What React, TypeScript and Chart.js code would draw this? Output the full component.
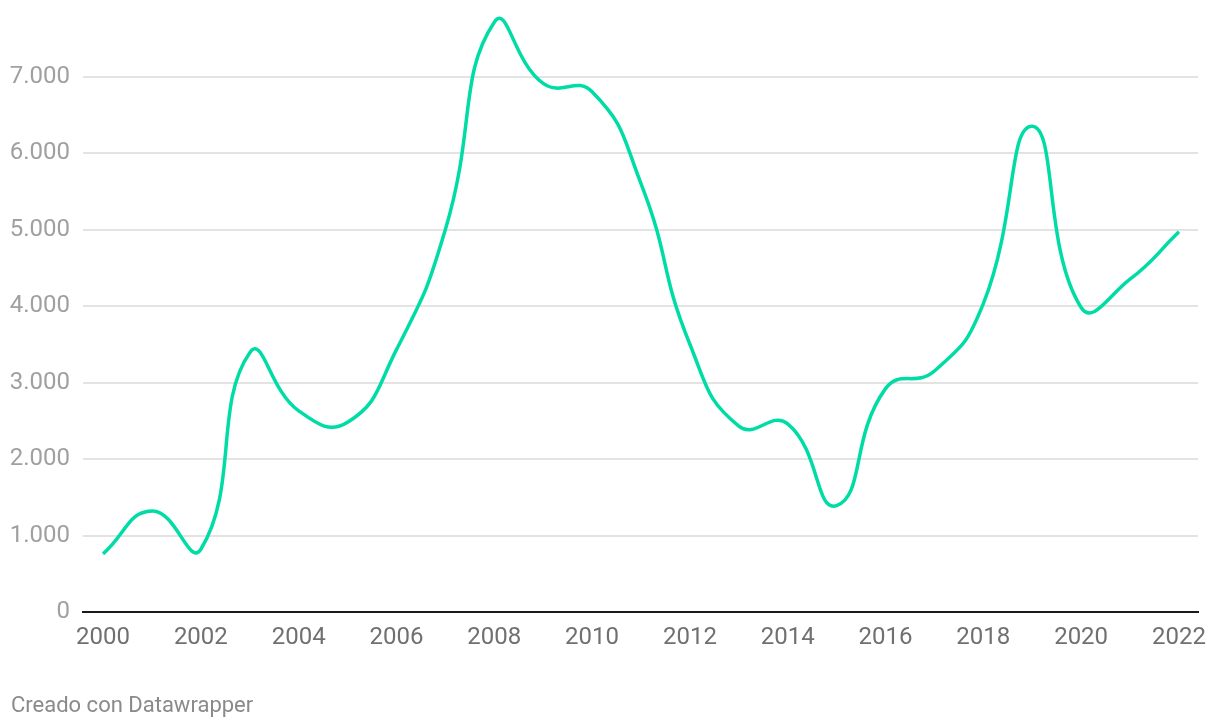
import React, { useEffect, useRef } from "react";
import { Chart, registerables } from "chart.js";

Chart.register(...registerables);

const years: number[] = [2000, 2001, 2002, 2003, 2004, 2005, 2006, 2007, 2008, 2009, 2010, 2011, 2012, 2013, 2014, 2015, 2016, 2017, 2018, 2019, 2020, 2021, 2022];
const values: number[] = [760, 1320, 820, 3390, 2630, 2480, 3430, 5000, 7710, 6910, 6800, 5600, 3500, 2430, 2460, 1390, 2920, 3150, 4030, 6350, 3980, 4350, 4970];
const xTickYears: number[] = [2000, 2002, 2004, 2006, 2008, 2010, 2012, 2014, 2016, 2018, 2020, 2022];
const yTickValues: number[] = [0, 1000, 2000, 3000, 4000, 5000, 6000, 7000];
const footerText = "Creado con Datawrapper";

const fmt = (v: number) => {
  const s = Math.round(v).toString();
  return s.replace(/\B(?=(\d{3})+(?!\d))/g, ".");
};

export default function App() {
  const ref = useRef<HTMLCanvasElement | null>(null);
  useEffect(() => {
    if (!ref.current) return;
    const chart = new Chart(ref.current, {
      type: "line",
      data: {
        datasets: [
          {
            data: years.map((y, i) => ({ x: y, y: values[i] })),
            borderColor: "#00dca5",
            borderWidth: 3.5,
            pointRadius: 0,
            pointHoverRadius: 0,
            tension: 0.5,
            fill: false,
            clip: false as any,
          },
        ],
      },
      options: {
        animation: false,
        responsive: true,
        maintainAspectRatio: false,
        layout: { autoPadding: false, padding: { top: 0, right: 22, bottom: 0, left: 0 } },
        plugins: { legend: { display: false }, tooltip: { enabled: false } },
        scales: {
          x: {
            type: "linear",
            min: 1999.59,
            max: 2022.39,
            afterBuildTicks: (s: any) => {
              s.ticks = xTickYears.map((v) => ({ value: v }));
            },
            afterFit: (s: any) => {
              s.height = 116;
              s.paddingLeft = 0;
              s.paddingRight = 0;
            },
            grid: { display: false, drawTicks: false },
            border: { display: true, color: "#1a1a1a", width: 2 },
            ticks: {
              autoSkip: false,
              maxRotation: 0,
              padding: 12,
              color: "#707070",
              font: { family: "Roboto", size: 24 },
              callback: (v: any) => String(v),
            },
          },
          y: {
            min: 0,
            max: 8000,
            afterBuildTicks: (s: any) => {
              s.ticks = yTickValues.map((v) => ({ value: v }));
            },
            afterFit: (s: any) => {
              s.width = 83;
              s.paddingTop = 0;
              s.paddingBottom = 0;
            },
            grid: { color: "#e3e3e3", lineWidth: 2, drawTicks: false },
            border: { display: false },
            ticks: {
              padding: 13,
              color: "#a0a0a0",
              font: { family: "Roboto", size: 24 },
              callback: (v: any) => fmt(Number(v)),
            },
          },
        },
      },
    });
    return () => chart.destroy();
  }, []);

  return (
    <div style={{ position: "fixed", left: 0, top: 0, width: 1220, height: 728, background: "#fff" }}>
      <canvas ref={ref} />
      <div
        style={{
          position: "absolute",
          left: 11,
          top: 692,
          fontFamily: "Roboto",
          fontSize: 22,
          color: "#8a8a8a",
          whiteSpace: "nowrap",
        }}
      >
        {footerText}
      </div>
    </div>
  );
}
